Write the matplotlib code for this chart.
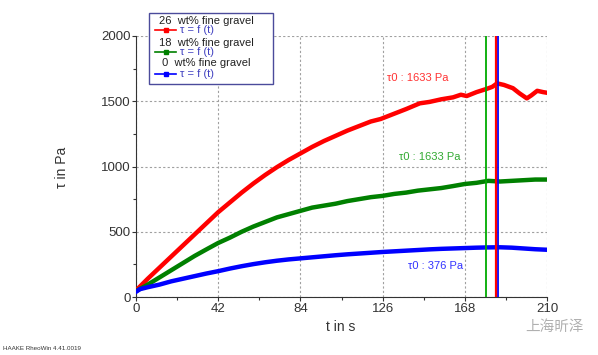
import matplotlib
matplotlib.use("Agg")
import matplotlib.pyplot as plt
from matplotlib.lines import Line2D
from matplotlib.patches import Rectangle

plt.rcParams['font.family'] = ['Liberation Sans', 'DejaVu Sans']

# shear stress vs time
t_red = [0, 6, 12, 18, 24, 30, 36, 42, 48, 54, 60, 66, 72, 78, 84, 90, 96, 102, 108, 114,
         120, 125, 132, 138, 145, 150, 156, 162, 166, 169, 174, 179, 182, 184.5, 188, 192.6,
         196, 199.7, 202, 205, 208, 210]
tau_red = [50, 140, 225, 310, 395, 480, 565, 650, 725, 800, 870, 935, 995, 1050, 1100, 1150,
           1195, 1235, 1275, 1310, 1345, 1364, 1405, 1440, 1484, 1495, 1515, 1530, 1550, 1540,
           1570, 1594, 1610, 1637, 1625, 1600, 1560, 1522, 1545, 1580, 1570, 1565]

t_green = [0, 6, 12, 18, 24, 30, 36, 42, 48, 54, 60, 66, 72, 78, 84, 90, 96, 102, 108, 114,
           120, 126, 132, 138, 144, 150, 156, 162, 168, 174, 180, 186, 192, 198, 204, 210]
tau_green = [45, 95, 150, 205, 260, 315, 365, 414, 455, 500, 540, 575, 610, 635, 660, 685,
             700, 715, 735, 750, 765, 775, 790, 800, 815, 825, 835, 850, 866, 875, 890, 885,
             890, 895, 900, 900]

t_blue = [0, 2, 6, 12, 18, 24, 30, 36, 42, 48, 54, 60, 66, 72, 78, 84, 90, 96, 102, 108, 114,
          120, 126, 132, 138, 144, 150, 156, 162, 168, 174, 180, 186, 192, 198, 204, 210]
tau_blue = [40, 60, 75, 95, 120, 140, 160, 180, 198, 218, 236, 252, 266, 278, 288, 296, 304,
            312, 320, 327, 333, 339, 345, 350, 355, 360, 365, 369, 372, 375, 378, 380, 381,
            378, 372, 366, 362]

t_yield = [184.0, 179.0, 184.8]  # red, green, blue markers
labels = ["26  wt% fine gravel", "18  wt% fine gravel", " 0  wt% fine gravel"]
colors = ["#ff0000", "#008000", "#0000ff"]
notes = ["τ0 : 1633 Pa", "τ0 : 1633 Pa", "τ0 : 376 Pa"]
note_colors = ["#ff3333", "#33aa33", "#3333ff"]
note_pos = [(128.3, 1678), (134.5, 1075), (139, 237)]

fig = plt.figure(figsize=(5.98, 3.55), dpi=100)
ax = fig.add_axes([136/598, 58/355, 411/598, 261/355])

ax.plot(t_red, tau_red, color=colors[0], lw=3.2, zorder=3)
ax.plot(t_green, tau_green, color=colors[1], lw=3.2, zorder=3)
ax.plot(t_blue, tau_blue, color=colors[2], lw=3.2, zorder=3)

ax.axvline(t_yield[1], color="#00aa00", lw=1.3, zorder=4)
ax.axvline(t_yield[2], color="#0000ff", lw=1.3, zorder=4)
ax.axvline(t_yield[0], color="#ff0000", lw=1.6, zorder=5)

for txt, c, (x, y) in zip(notes, note_colors, note_pos):
    ax.text(x, y, txt, color=c, fontsize=8, va="center", ha="left")

ax.set_xlim(0, 210)
ax.set_ylim(0, 2000)
ax.set_xticks([0, 42, 84, 126, 168, 210])
ax.set_xticks([21, 63, 105, 147, 189], minor=True)
ax.set_yticks([0, 500, 1000, 1500, 2000])
ax.set_yticks([250, 750, 1250, 1750], minor=True)
ax.tick_params(labelsize=9.5, colors="#333333", length=3, width=0.8, pad=1)
ax.tick_params(which="minor", length=2, width=0.8, colors="#333333")
ax.grid(True, which="major", linestyle=(0, (2, 2)), color="#a0a0a0", lw=0.8)
for s in ["top", "right"]:
    ax.spines[s].set_visible(False)
for s in ["left", "bottom"]:
    ax.spines[s].set_color("#333333")

ax.set_xlabel("t in s", fontsize=10, color="#333333", va="center")
ax.set_ylabel("τ in Pa", fontsize=10, color="#333333", va="center")
ax.xaxis.set_label_coords((341-136)/411, -(327-297)/261)
ax.yaxis.set_label_coords((62-136)/411, (297-167)/261)

# legend box drawn by hand, as in the RheoWin export
def fx(px):
    return px / 598

def fy(py):
    return 1 - py / 355

fig.add_artist(Rectangle((fx(149), fy(84)), fx(124), 71/355, transform=fig.transFigure,
                         facecolor="white", edgecolor="#4b4b9b", lw=1.0, zorder=6))
head_y = [20.7, 42.7, 63.3]
line_y = [30, 51.7, 74]
for lab, c, hy, ly in zip(labels, colors, head_y, line_y):
    fig.text(fx(159), fy(hy), lab, fontsize=8, color="#222222", va="center", zorder=7)
    fig.add_artist(Line2D([fx(155), fx(176)], [fy(ly), fy(ly)], color=c, lw=1.2,
                          transform=fig.transFigure, zorder=7))
    fig.add_artist(Line2D([fx(165.5)], [fy(ly)], color=c, marker="s", markersize=3,
                          transform=fig.transFigure, zorder=7))
    fig.text(fx(180), fy(ly), "τ = f (t)", fontsize=8, color="#4040c0", va="center", zorder=7)

fig.text(fx(3), fy(348), "HAAKE RheoWin 4.41.0019", fontsize=4.5, color="#333333", va="center")
fig.text(fx(525), fy(327), "上海昕泽", fontsize=10.5, color="#b0b0b0", va="center",
         family=["Noto Sans CJK SC", "DejaVu Sans"])

fig.savefig("out.png", dpi=100)
